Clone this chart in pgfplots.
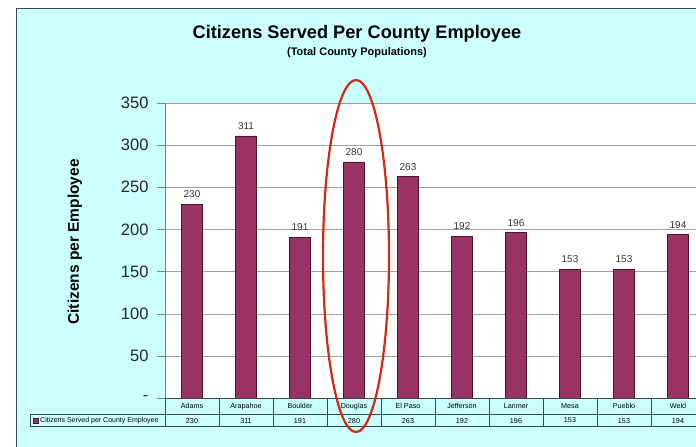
\documentclass[border=0pt]{standalone}
\usepackage{pgfplots}
\pgfplotsset{compat=1.18}
\usepackage{fontspec}
\setmainfont{Liberation Sans}
\definecolor{bgcyan}{HTML}{CCFFFF}
\definecolor{barcol}{HTML}{993366}
\definecolor{bardraw}{HTML}{4A1530}
\definecolor{framecol}{HTML}{3A4A4A}
\definecolor{ellred}{HTML}{D02A10}
\begin{document}
\begin{tikzpicture}
\path[use as bounding box] (0pt,0pt) rectangle (696pt,447pt);
\clip (0pt,0pt) rectangle (696pt,447pt);
\fill[white] (0pt,0pt) rectangle (696pt,447pt);
\fill[bgcyan] (16pt,0pt) rectangle (700pt,438.5pt);
\draw[framecol, line width=1pt] (16pt,0pt) -- (16pt,438.5pt) -- (700pt,438.5pt);
\node[font=\bfseries\fontsize{18.2}{21}\selectfont] at (357pt,413pt) {Citizens Served Per County Employee};
\node[font=\bfseries\fontsize{11}{13}\selectfont] at (357pt,394pt) {(Total County Populations)};
\begin{axis}[
  at={(165pt,49pt)}, anchor=south west,
  scale only axis, width=540pt, height=295pt,
  xmin=-0.5, xmax=9.5, ymin=0, ymax=350,
  clip=false,
  axis lines*=left,
  axis line style={draw=gray},
  axis background/.style={fill=white},
  ybar, bar width=21pt,
  ytick={0,50,100,150,200,250,300,350},
  yticklabels={-,50,100,150,200,250,300,350},
  ymajorgrids, grid style={draw=gray!75},
  tick align=outside,
  ytick style={draw=gray},
  major tick length=8pt,
  xtick={0,...,9},
  xtick style={draw=none},
  xticklabels={{Adams\\230},{Arapahoe\\311},{Boulder\\191},{Douglas\\280},{El Paso\\263},{Jefferson\\192},{Larimer\\196},{Mesa\\153},{Pueblo\\153},{Weld\\194}},
  xticklabel style={align=center, font=\fontsize{7.2}{14.8}\selectfont, inner sep=0pt, anchor=north, yshift=3pt},
  yticklabel style={font=\fontsize{16.5}{19}\selectfont, color=black!85, xshift=-5pt},
  /pgf/number format/assume math mode=true,
  ylabel={Citizens per Employee},
  ylabel style={font=\bfseries\fontsize{15.5}{18}\selectfont, at={(axis description cs:-0.1667,0.529)}, anchor=center},
  nodes near coords,
  every node near coord/.append style={font=\fontsize{10}{12}\selectfont, color=black!80, yshift=2.5pt},
]
\addplot[fill=barcol, draw=bardraw, line width=0.6pt] coordinates {
(0,230) (1,311) (2,191) (3,280) (4,263) (5,192) (6,196) (7,153) (8,153) (9,194)};
\foreach \k in {0,...,10} {
  \edef\temp{\noexpand\draw[framecol, line width=0.6pt] (axis cs:{\k-0.5},0) -- ++(0pt,-28.7pt);}
  \temp
}
\end{axis}
\draw[framecol, line width=0.6pt] (30pt,32.7pt) -- (700pt,32.7pt);
\draw[framecol, line width=0.6pt] (30pt,20.3pt) -- (700pt,20.3pt);
\draw[framecol, line width=0.6pt] (30pt,20.3pt) -- (30pt,32.7pt);
\draw[framecol, line width=0.6pt] (165pt,49pt) -- (700pt,49pt);
\fill[barcol, draw=bardraw, line width=0.4pt] (33pt,24pt) rectangle (38pt,29pt);
\node[anchor=west, inner sep=0pt, font=\fontsize{7}{8}\selectfont] at (40pt,26.5pt) {Citizens Served per County Employee};
\draw[ellred, line width=2.2pt] (356pt,191pt) ellipse (33pt and 176pt);
\end{tikzpicture}
\end{document}
